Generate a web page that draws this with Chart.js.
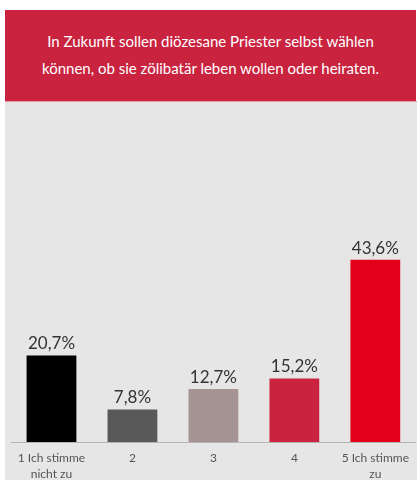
<!DOCTYPE html>
<html>
<head>
<meta charset="utf-8">
<script src="https://cdn.jsdelivr.net/npm/chart.js@4"></script>
<style>
  html, body { margin: 0; padding: 0; background: #ffffff; }
  body { width: 417px; height: 480px; position: relative; overflow: hidden; font-family: Lato, "Open Sans", sans-serif; }
  #header {
    position: absolute; left: 5px; top: 10px; width: 411px; height: 91px;
    background: #c9233f; color: #ffffff; font-family: Lato, sans-serif;
    font-size: 15px; line-height: 27px; text-align: center;
    box-sizing: border-box; padding-top: 18px; letter-spacing: 0;
  }
  #panel {
    position: absolute; left: 5px; top: 101px; width: 412px; height: 379px;
    background: #e6e6e6; border-top: 1px solid #e79aa6; box-sizing: border-box;
  }
  #wrap { position: absolute; left: 0; top: 0; width: 412px; height: 378px; }
</style>
</head>
<body>
<div id="header">In Zukunft sollen diözesane Priester selbst wählen<br>können, ob sie zölibatär leben wollen oder heiraten.</div>
<div id="panel"><div id="wrap"><canvas id="c"></canvas></div></div>
<script>
const categories = [["1 Ich stimme", "nicht zu"], "2", "3", "4", ["5 Ich stimme", "zu"]];
const values = [20.7, 7.8, 12.7, 15.2, 43.6];
const valueLabels = ["20,7%", "7,8%", "12,7%", "15,2%", "43,6%"];
const barColors = ["#000000", "#595959", "#a69494", "#c9233f", "#e2001a"];

const valueLabelPlugin = {
  id: 'valueLabels',
  afterDatasetsDraw(chart) {
    const ctx = chart.ctx;
    const meta = chart.getDatasetMeta(0);
    ctx.save();
    ctx.font = '17px Lato, sans-serif';
    ctx.fillStyle = '#333333';
    ctx.textAlign = 'center';
    ctx.textBaseline = 'bottom';
    meta.data.forEach((bar, i) => {
      ctx.fillText(valueLabels[i], bar.x, bar.y - 3);
    });
    ctx.restore();
  }
};

new Chart(document.getElementById('c'), {
  type: 'bar',
  data: {
    labels: categories,
    datasets: [{
      data: values,
      backgroundColor: barColors,
      borderWidth: 0,
      barPercentage: 0.615,
      categoryPercentage: 1.0
    }]
  },
  options: {
    responsive: true,
    maintainAspectRatio: false,
    animation: false,
    devicePixelRatio: 1,
    layout: { padding: { top: 131, left: 6, right: 0, bottom: 0 } },
    plugins: { legend: { display: false }, title: { display: false }, tooltip: { enabled: false } },
    scales: {
      x: {
        grid: { display: false, drawTicks: false },
        border: { display: true, color: '#b5b5b5', width: 1 },
        ticks: {
          color: '#555555',
          font: { family: 'Lato, sans-serif', size: 12, lineHeight: 1.35 },
          padding: 8,
          maxRotation: 0,
          autoSkip: false
        },
        afterFit(scale) { scale.height = 38; }
      },
      y: {
        display: false,
        min: 0,
        max: 50
      }
    }
  },
  plugins: [valueLabelPlugin]
});
</script>
</body>
</html>
